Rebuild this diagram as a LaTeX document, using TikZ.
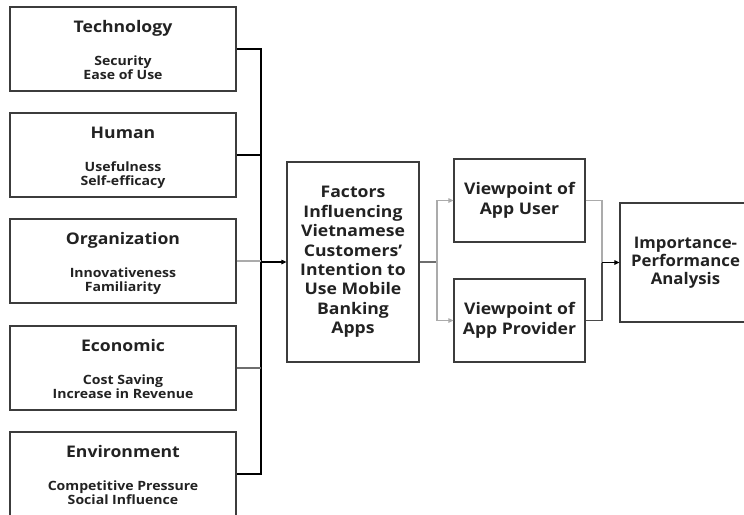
\documentclass[tikz,border=0pt]{standalone}
\usepackage{fontspec}
\usetikzlibrary{arrows.meta}
\newfontfamily\lbl{Open Sans}[FakeStretch=1.1]
\newfontfamily\lblnarrow{Open Sans}[FakeStretch=1.05]
\definecolor{txt}{HTML}{222222}
\definecolor{boxc}{HTML}{3C3C3C}
\definecolor{lgrey}{HTML}{ABABAB}
\definecolor{mgrey}{HTML}{6E6E6E}
\definecolor{dgrey}{HTML}{4A4A4A}
\tikzset{
  box/.style={draw=boxc, line width=1.2pt, align=center, inner sep=0pt, text=txt,
    font=\lbl\bfseries\fontsize{16}{19.4}\selectfont},
  ttl/.style={anchor=base, inner sep=0pt, text=txt, font=\lbl\bfseries\fontsize{16}{19}\selectfont},
  subline/.style={anchor=base, inner sep=0pt, text=txt, font=\lbl\bfseries\fontsize{12.8}{14}\selectfont},
  link/.style={line width=1.1pt, draw=black},
  arr/.style={-{Triangle[length=5pt,width=4.5pt]}}
}
\begin{document}
\begin{tikzpicture}[x=1pt,y=-1pt]
\useasboundingbox (0,0) rectangle (744,514);
\clip (0,0) rectangle (744,514);

% factor groups on the left
\foreach \nm/\tp/\head/\lineA/\lineB in {
  tech/7/Technology/Security/Ease of Use,
  human/113/Human/Usefulness/Self-efficacy,
  org/219/Organization/Innovativeness/Familiarity,
  econ/326/Economic/Cost Saving/Increase in Revenue,
  env/432/Environment/Competitive Pressure/Social Influence}{
  \node[box, minimum width=226pt, minimum height=84pt] (\nm) at (123,\tp+42) {};
  \node[ttl] (\nm-t) at ([yshift=-26.5pt]\nm.north) {\head};
  \node[subline] (\nm-a) at ([yshift=-59pt]\nm.north) {\lineA};
  \node[subline] (\nm-b) at ([yshift=-73pt]\nm.north) {\lineB};
}

% central and right boxes
\node[box, minimum width=132pt, minimum height=200pt] (fac) at (353,262)
  {Factors\\Influencing\\Vietnamese\\Customers’\\Intention to\\Use Mobile\\Banking\\Apps};
\node[box, minimum width=131pt, minimum height=83pt,
  font=\lbl\bfseries\fontsize{16}{19.5}\selectfont] (vu) at (519.5,200.5) {Viewpoint of\\App User};
\node[box, minimum width=131pt, minimum height=83pt,
  font=\lbl\bfseries\fontsize{16}{19.5}\selectfont] (vp) at (519.5,320.5) {Viewpoint of\\App Provider};
\node[box, minimum width=131pt, minimum height=119pt,
  font=\lblnarrow\bfseries\fontsize{16}{18}\selectfont] (ipa) at (685.5,262.5) {Importance-\\Performance\\Analysis};

% connector columns
\coordinate (busx) at (261,0);
\coordinate (splitx) at (437,0);
\coordinate (joinx) at (602,0);

% bus collecting the factor groups
\draw[link] (tech.east) -- (tech.east -| busx) -- (env.east -| busx) -- (env.east);
\draw[link] (human.east) -- (human.east -| busx);
\draw[link, draw=lgrey] (org.east) -- (org.east -| busx);
\draw[link, draw=mgrey] (econ.east) -- (econ.east -| busx);
\draw[link, arr] (fac.west -| busx) -- (fac.west);

% split towards the two viewpoints
\draw[link, draw=mgrey] (fac.east) -- (fac.east -| splitx);
\draw[link, draw=lgrey, arr] (fac.east -| splitx) |- (vu.west);
\draw[link, draw=lgrey, arr] (fac.east -| splitx) |- (vp.west);

% join into the analysis
\draw[link, draw=lgrey] (vu.east) -- (vu.east -| joinx) -- (joinx |- ipa.west);
\draw[link, draw=dgrey] (vp.east) -- (vp.east -| joinx) -- (joinx |- ipa.west);
\draw[link, arr] (ipa.west -| joinx) -- (ipa.west);
\end{tikzpicture}
\end{document}
